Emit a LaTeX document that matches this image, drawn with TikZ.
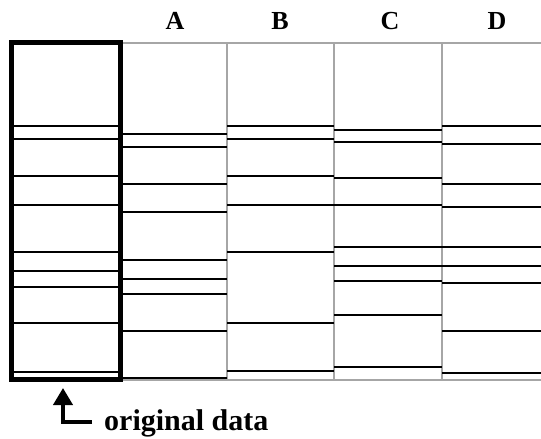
\documentclass[tikz,border=0pt]{standalone}
\usepackage{fontspec}
\setmainfont{Liberation Serif}
\usetikzlibrary{arrows.meta}
\begin{document}
\begin{tikzpicture}[x=1pt,y=-1pt,
  gridline/.style={draw=black!35,line width=1.1pt},
  band/.style={line width=2.7pt},
  collabel/.style={font=\bfseries\fontsize{26}{26}\selectfont,anchor=base},
  origbox/.style={draw=black,line width=5pt},
  pointer/.style={line width=4pt,-{Triangle[length=17pt,width=19pt]}}]
\useasboundingbox (0,0) rectangle (541,439);
\fill[white] (0,0) rectangle (541,439);
% grey frame
\draw[gridline] (541,43) -- (122,43);
\draw[gridline] (122,380) -- (541,380);
\foreach \x in {227,334,442} \draw[gridline] (\x,43) -- (\x,380);
% column labels
\node[collabel] (la) at (175,29) {A};
\node[collabel] (lb) at (280,29) {B};
\node[collabel] (lc) at (390,29) {C};
\node[collabel] (ld) at (497,29) {D};
% bands
\foreach \y in {126,139,176,205,252,271,287,323,372} \draw[band] (11,\y) -- (120,\y);
\foreach \y in {134,147,184,212,260,279,294,331,378} \draw[band] (122,\y) -- (227,\y);
\foreach \y in {126,139,176,205,252,323,371} \draw[band] (227,\y) -- (334,\y);
\foreach \y in {130,142,178,205,247,266,281,315,367} \draw[band] (334,\y) -- (442,\y);
\foreach \y in {126,144,184,207,247,266,283,331,373} \draw[band] (442,\y) -- (541,\y);
% original data box
\draw[origbox] (11,42.5) rectangle (120,379);
% label and pointer
\node[anchor=base west,inner sep=0pt,font=\bfseries\fontsize{30}{30}\selectfont] (orig) at (104,430) {original data};
\coordinate (arrstart) at (92,421.5);
\coordinate (arrtip) at (63,388);
\draw[pointer] (arrstart) -| (arrtip);
\end{tikzpicture}
\end{document}
